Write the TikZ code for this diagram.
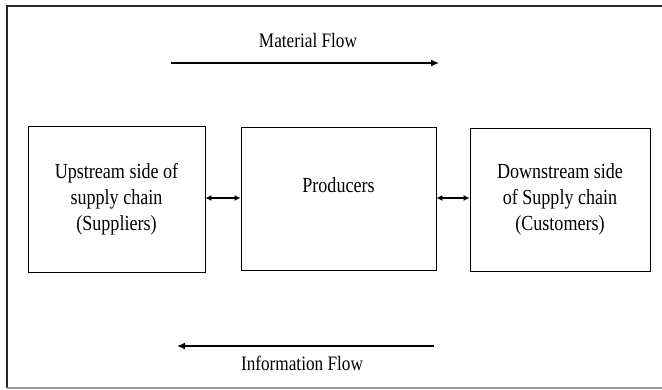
\documentclass[tikz,border=0pt]{standalone}
\usepackage{fontspec}
\setmainfont{Liberation Serif}[FakeStretch=0.84]
\usetikzlibrary{arrows.meta}

\tikzset{
	chainbox/.style={draw, line width=0.9pt, align=center, inner sep=0pt},
	flowlabel/.style={inner sep=0pt},
	flowarrow/.style={line width=1.2pt, -{Latex[length=8pt,width=7pt]}},
	linkarrow/.style={line width=1.1pt, {Latex[length=6pt,width=6pt]}-{Latex[length=6pt,width=6pt]}}
}

\begin{document}
\begin{tikzpicture}[x=1pt, y=-1pt, font=\fontsize{21.5}{26}\selectfont]
		%%%%% START %%%%%
		
		\useasboundingbox (0, 0) rectangle (662, 390);
		
		% frame
		\draw[line width=1.8pt, color=black!85] (662, 6) -- (7, 6) -- (7, 388);
		\draw[line width=1.8pt, color=black!40] (7, 388) -- (662, 388);
		
		% the three sides of the chain
		\node[chainbox, minimum width=177pt, minimum height=146pt] (up) at (116.5, 199) {Upstream side of\\supply chain\\(Suppliers)};
		\node[chainbox, minimum width=195pt, minimum height=143pt] (prod) at (338.5, 198.5) {Producers\\~};
		\node[chainbox, minimum width=180pt, minimum height=143pt] (down) at (560, 199.5) {Downstream side\\of Supply chain\\(Customers)};
		
		\draw[linkarrow] (up.east |- 0, 198) -- (prod.west |- 0, 198);
		\draw[linkarrow] (prod.east |- 0, 198) -- (down.west |- 0, 198);
		
		% material flow
		\node[flowlabel, font=\fontsize{20.5}{26}\selectfont] (matlabel) at (308, 40) {Material Flow};
		\coordinate (matstart) at (171, 63);
		\coordinate (matend) at (439, 63);
		\draw[flowarrow] (matstart) -- (matend);
		
		% information flow
		\node[flowlabel, font=\fontsize{20.5}{26}\selectfont] (infolabel) at (302, 363) {Information Flow};
		\coordinate (infostart) at (434, 346);
		\coordinate (infoend) at (177, 346);
		\draw[flowarrow] (infostart) -- (infoend);
		
		%%%%% END %%%%%
	\end{tikzpicture}
\end{document}
